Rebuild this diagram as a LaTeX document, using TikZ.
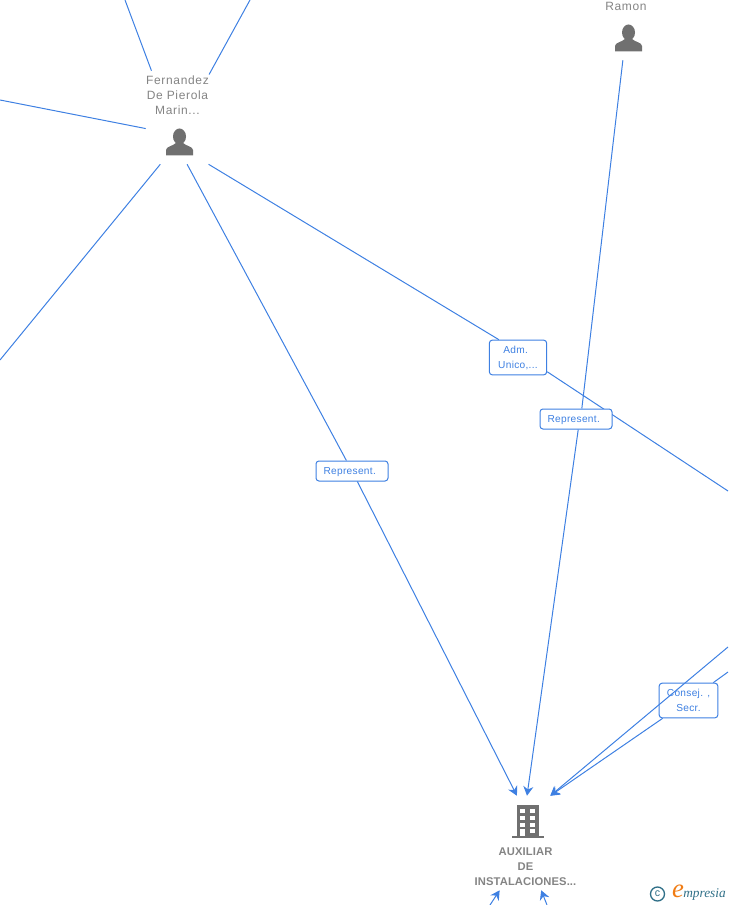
\documentclass[tikz,border=0pt]{standalone}
\usepackage{fontspec}
\setmainfont{Liberation Sans}
\newfontfamily\logofont{Liberation Serif}
\usetikzlibrary{arrows.meta}
\definecolor{linkblue}{RGB}{62,128,226}
\definecolor{namegray}{RGB}{132,132,132}
\definecolor{icongray}{RGB}{112,112,112}
\definecolor{logoteal}{RGB}{48,112,136}
\definecolor{logoorange}{RGB}{240,124,20}

\begin{document}
\begin{tikzpicture}[x=.75pt, y=-.75pt,
        >={Stealth[length=7pt,width=7.5pt]},
        link/.style={draw=linkblue, line width=.75pt},
        tag/.style={draw=linkblue, line width=.75pt, fill=white, rounded corners=2.2pt, inner sep=0pt, align=center, text=linkblue, font=\fontsize{7.6pt}{11pt}\selectfont\addfontfeature{LetterSpace=3}},
        nametext/.style={inner sep=0pt, align=center, text=namegray, font=\fontsize{9pt}{11.25pt}\selectfont\addfontfeature{LetterSpace=5.5}},
        person/.style={inner sep=0pt, minimum width=49.5pt, minimum height=33pt, path picture={
            \begin{scope}[shift={(path picture bounding box.center)}]
                \fill[icongray] (.5,-5.5) ellipse (6.5 and 8);
                \fill[icongray] (-13,13.5) -- (-13,8) .. controls (-13,4.5) and (-6,4) .. (-3,1) -- (4,1) .. controls (7,4) and (14,4.5) .. (14,8) -- (14,13.5) -- cycle;
            \end{scope}}},
        office/.style={inner sep=0pt, minimum width=34.5pt, minimum height=39pt, path picture={
            \begin{scope}[shift={(path picture bounding box.center)}]
                \fill[icongray] (-10.3,-17) rectangle (12.3,15);
                \fill[icongray] (-15,14) rectangle (16.7,16);
                \foreach \y in {-12.7,-6,.7} \foreach \x in {-6.7,3} \fill[white] (\x,\y) rectangle ++(4.6,4);
                \fill[white] (-6.7,7.3) rectangle (-2.1,14);
                \fill[white] (3,7.3) rectangle (7.6,11.3);
            \end{scope}}}]
        % Rand
        \useasboundingbox (0,0) rectangle (728,905);
        % Personen und Firma
        \node[person] (fernandez) at (179,142) {};
        \node[nametext, minimum width=46.5pt, minimum height=36pt] (fernandezname) at (177.5,95) {Fernandez\\De Pierola\\Marin...};
        \node[person] (ramon) at (628,38) {};
        \node[nametext] (ramonname) at (626,6) {Ramon};
        \node[office] (auxiliar) at (527,822) {};
        \node[nametext, minimum width=78pt, minimum height=34.5pt, font=\fontsize{8.4pt}{11.25pt}\selectfont\bfseries\addfontfeature{LetterSpace=1}] (auxiliarname) at (525.5,867) {AUXILIAR\\DE\\INSTALACIONES...};
        % Freie Enden
        \coordinate (topa) at (125,0);
        \coordinate (topb) at (250,0);
        \coordinate (lefta) at (0,100);
        \coordinate (leftb) at (0,360);
        \coordinate (righta) at (728,491);
        \coordinate (rightb) at (728,647);
        \coordinate (rightc) at (728,672);
        \coordinate (bottoma) at (490,905);
        \coordinate (bottomb) at (547,905);
        % Linien
        \draw[link] (topa) -- (fernandezname.137);
        \draw[link] (topb) -- (fernandezname.33);
        \draw[link] (lefta) -- (fernandez.158);
        \draw[link] (leftb) -- (fernandez.230.7);
        \node[tag, minimum width=43pt, minimum height=26pt, text depth=.5pt] (adm) at (518,357.5) {Adm.\hspace*{3.5pt}\\Unico,...};
        \draw[link] (fernandez.-37) -- (adm.137.4);
        \draw[link] (adm.-26.6) -- (righta);
        \node[tag, minimum width=54pt, minimum height=15pt, text depth=.5pt] (repb) at (576,419) {Represent.\hspace*{3.5pt}};
        \draw[link] (ramon.257) -- (repb.61);
        \draw[link, ->] (repb.-78.7) -- (auxiliar.north);
        \node[tag, minimum width=54pt, minimum height=15pt, text depth=.5pt] (repa) at (352,471) {Represent.\hspace*{3.5pt}};
        \draw[link] (fernandez.-70) -- (repa);
        \draw[link, ->] (repa) -- (auxiliar.111);
        \node[tag, minimum width=44pt, minimum height=26pt, text depth=.5pt] (consej) at (688.5,700.5) {Consej. ,\\Secr.};
        \draw[link] (rightc) -- (consej);
        \draw[link, ->] (consej) -- (auxiliar.north east);
        \draw[link, ->] (rightb) -- (auxiliar.north east);
        \draw[link, ->] (bottoma) -- (auxiliarname.222);
        \draw[link, ->] (bottomb) -- (auxiliarname.304.5);
        % Logo
        \node[draw=logoteal, circle, line width=1pt, inner sep=0pt, minimum size=10.5pt, text=logoteal, font=\fontsize{8pt}{8pt}\selectfont] (copyr) at (657.5,894) {c};
        \node[inner sep=0pt, text=logoorange, font=\fontsize{20pt}{20pt}\logofont\itshape] (logoe) at (678,891) {e};
        \node[inner sep=0pt, text=logoteal, anchor=west, font=\fontsize{10pt}{11pt}\logofont\itshape] (logotext) at (683,894) {mpresia};
    \end{tikzpicture}
\end{document}
